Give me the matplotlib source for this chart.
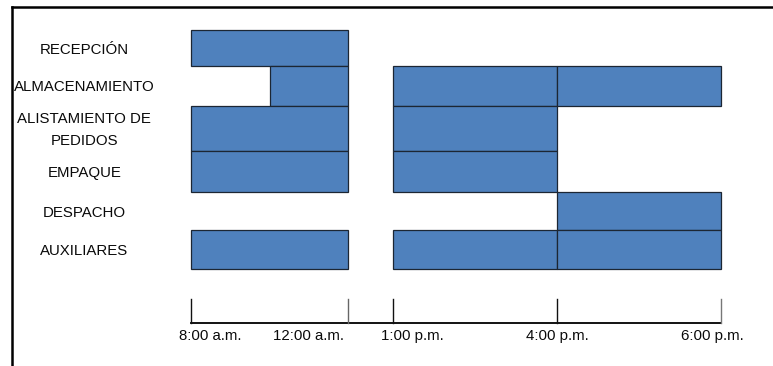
import numpy as np
import matplotlib
matplotlib.use("Agg")
import matplotlib.pyplot as plt
from matplotlib.lines import Line2D

plt.rcParams['font.family'] = ['Liberation Sans', 'DejaVu Sans']

# areas (top to bottom)
areas = ['RECEPCIÓN', 'ALMACENAMIENTO', 'ALISTAMIENTO DE\nPEDIDOS',
         'EMPAQUE', 'DESPACHO', 'AUXILIARES']

# working blocks per area: (start hour, end hour)
turnos = {
    'RECEPCIÓN': [(8, 12)],
    'ALMACENAMIENTO': [(10, 12), (13, 16), (16, 18)],
    'ALISTAMIENTO DE\nPEDIDOS': [(8, 12), (13, 16)],
    'EMPAQUE': [(8, 12), (13, 16)],
    'DESPACHO': [(16, 18)],
    'AUXILIARES': [(8, 12), (13, 16), (16, 18)],
}

horas = [8, 12, 13, 16, 18]
etiquetas = ['8:00 a.m.', '12:00 a.m.', '1:00 p.m.', '4:00 p.m.', '6:00 p.m.']

# position of each hour mark along the time line (the noon break is squeezed)
pos_horas = [0.0, 1.0, 1.287, 2.331, 3.376]
# where each hour label is centred
pos_etiq = [0.12, 0.75, 1.41, 2.331, 3.32]
color_marcas = ['#111111', '#666666', '#111111', '#111111', '#777777']

# row heights (the rows are not all the same size)
alturas = [0.9, 1.0, 1.13, 1.03, 0.97, 0.96]

azul = '#4F81BD'
borde = '#1c2633'


def a_pos(h):
    return np.interp(h, horas, pos_horas)


fig = plt.figure(figsize=(7.73, 3.66), dpi=100)
ax = fig.add_axes([0, 0, 1, 1])
ax.set_xlim(-1.2166, 3.707)
ax.set_ylim(7.937, -1.254)
ax.axis('off')

techo = -0.5
for area, alto in zip(areas, alturas):
    centro = techo + alto / 2
    for ini, fin in turnos[area]:
        x0, x1 = a_pos(ini), a_pos(fin)
        ax.barh(centro, x1 - x0, left=x0, height=alto, color=azul,
                edgecolor=borde, linewidth=0.9)
    ax.text(-0.68, centro + 0.04, area, ha='center', va='center',
            fontsize=10.8, color='#0a0a0a', linespacing=1.75)
    techo += alto

# time line with its hour marks
eje_y = 6.857
ax.plot([pos_horas[0], pos_horas[-1]], [eje_y, eje_y], color='black', lw=1.3)
for p, c in zip(pos_horas, color_marcas):
    ax.plot([p, p], [6.254, eje_y], color=c, lw=1.0)
for p, txt in zip(pos_etiq, etiquetas):
    ax.text(p, 7.18, txt, ha='center', va='center', fontsize=10.8,
            color='#0a0a0a')

# outer frame
fig.add_artist(Line2D([12 / 773, 1.0], [1 - 7 / 366, 1 - 7 / 366],
                      color='black', lw=1.8, transform=fig.transFigure))
fig.add_artist(Line2D([12 / 773, 12 / 773], [0.0, 1 - 7 / 366],
                      color='black', lw=1.8, transform=fig.transFigure))

fig.savefig('out.png', dpi=100, facecolor='white')
